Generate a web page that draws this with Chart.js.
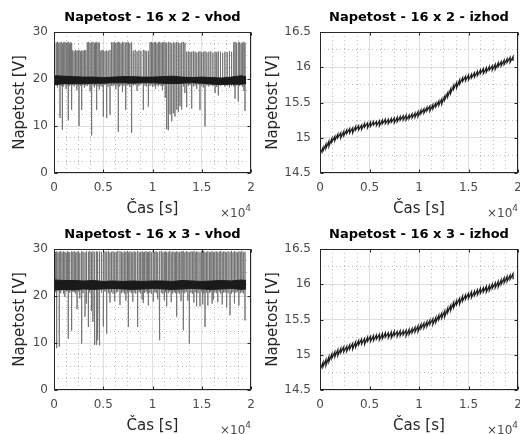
<!DOCTYPE html>
<html>
<head>
<meta charset="utf-8">
<script src="https://cdn.jsdelivr.net/npm/chart.js@4"></script>
<style>
  body { margin: 0; background: #fff; }
  #wrap { position: relative; width: 520px; height: 434px; background: #fff; }
  #wrap canvas { position: absolute; }
</style>
</head>
<body>
<div id="wrap">
  <canvas id="c1" width="260" height="217" style="left:0;top:0"></canvas>
  <canvas id="c2" width="260" height="217" style="left:260px;top:0"></canvas>
  <canvas id="c3" width="260" height="217" style="left:0;top:217px"></canvas>
  <canvas id="c4" width="260" height="217" style="left:260px;top:217px"></canvas>
</div>
<script>
// ---- 16 x 2 - vhod (input voltage) ----
// dark band envelope around the base level
const bandTime = [0, 1000, 2000, 3000, 4000, 5000, 6000, 7000, 8000, 9000, 10000,
  11000, 12000, 13000, 14000, 15000, 16000, 17000, 18000, 19000, 19500];
const vhod2Upper = [20.7, 20.6, 20.5, 20.4, 20.4, 20.3, 20.4, 20.5, 20.5, 20.4, 20.4,
  20.5, 20.6, 20.4, 20.3, 20.4, 20.3, 20.2, 20.4, 20.7, 20.5];
const vhod2Lower = [18.8, 19.0, 19.0, 19.0, 19.1, 19.1, 19.2, 19.2, 19.1, 19.2, 19.2,
  19.1, 19.0, 19.1, 19.2, 19.1, 18.9, 18.8, 18.9, 18.9, 19.0];
const vhod2Base = 19.6;
// spikes: time, top and bottom of each excursion
const vhod2Time = [
  0, 100, 230, 360, 480, 610, 730, 850, 980, 1100, 1230, 1340, 1450, 1570, 1690, 1790,
  1900, 2040, 2180, 2320, 2450, 2540, 2680, 2810, 2950, 3090, 3230,
  3380, 3520, 3660, 3820, 3960, 4100, 4210, 4330, 4470, 4600,
  4750, 4880, 5010, 5180, 5350, 5500, 5690, 5850,
  6000, 6140, 6280, 6410, 6530, 6670, 6810, 6950, 7100, 7280, 7420, 7560, 7700, 7880,
  8050, 8240, 8430, 8620, 8820, 9070, 9240, 9400, 9580,
  9750, 9890, 10030, 10170, 10310, 10450, 10590, 10730, 10870, 11010, 11150, 11290, 11440, 11610, 11780, 11950,
  12120, 12280, 12450, 12620, 12790, 12960, 13130, 13290,
  13470, 13640, 13810, 13980, 14150, 14320, 14490, 14660, 14820, 14990, 15160, 15330,
  15520, 15720, 15920, 16130, 16350, 16520, 16680, 16900, 17120, 17350, 17580, 17810, 18030,
  18250, 18380, 18520, 18710, 18850, 19000, 19150, 19280, 19390];
const vhod2High = [
  25.9, 27.6, 27.8, 27.9, 27.7, 27.8, 27.9, 27.6, 27.8, 27.9, 27.7, 27.8, 27.9, 27.6, 27.8, 27.7,
  26.1, 25.9, 26.2, 26.0, 26.1, 26.2, 25.9, 26.1, 26.0, 26.2, 26.1,
  27.8, 27.9, 27.7, 27.8, 27.9, 27.6, 27.8, 27.9, 27.7, 27.8,
  26.0, 26.2, 26.1, 25.9, 26.1, 26.0, 26.2, 27.8,
  27.8, 27.9, 27.7, 27.8, 27.9, 27.8, 27.6, 27.9, 27.8, 27.7, 27.9, 27.8, 27.6, 27.8,
  26.0, 26.2, 25.9, 26.1, 26.0, 26.2, 26.1, 25.9, 26.0,
  27.8, 27.9, 27.7, 27.8, 27.9, 27.6, 27.8, 27.9, 27.7, 27.8, 27.9, 27.8, 27.7, 27.9, 27.8, 27.6,
  27.8, 27.7, 27.9, 27.8, 27.6, 27.8, 27.9, 27.7,
  25.8, 25.9, 25.7, 25.8, 25.9, 25.8, 25.6, 25.8, 25.9, 25.7, 25.8, 25.9,
  25.7, 25.8, 25.9, 25.6, 25.8, 25.7, 25.9, 25.8, 25.6, 25.8, 25.7, 25.9, 25.8,
  27.8, 27.9, 27.7, 27.8, 27.9, 27.6, 27.8, 27.9, 27.7];
const vhod2Low = [
  13.0, 12.7, 18.6, 18.2, 18.8, 11.7, 18.5, 9.2, 18.4, 18.9, 17.9, 18.6, 11.2, 18.5, 18.8, 13.4,
  18.7, 18.4, 18.8, 17.6, 18.6, 10.0, 18.5, 13.4, 18.7, 18.2, 18.6,
  18.5, 18.8, 17.4, 8.0, 18.6, 18.2, 18.7, 13.4, 18.5, 17.8,
  18.6, 18.3, 12.0, 18.7, 11.7, 18.4, 12.4, 18.6,
  18.5, 18.8, 17.8, 18.6, 8.8, 18.4, 18.7, 17.2, 18.5, 13.4, 18.6, 18.8, 18.3, 8.5,
  18.6, 18.7, 17.5, 18.5, 18.8, 13.4, 18.6, 18.4, 14.1,
  18.5, 18.8, 18.3, 18.6, 17.9, 18.7, 18.4, 18.8, 18.5, 17.6, 18.6, 16.0, 9.3, 9.1, 12.5, 11.0,
  12.7, 12.0, 13.5, 13.0, 14.2, 13.5, 18.4, 17.0,
  14.0, 18.5, 18.7, 13.7, 18.4, 18.6, 17.9, 18.8, 13.4, 18.5, 18.2, 9.9,
  18.6, 18.4, 18.7, 18.5, 17.0, 18.3, 16.5, 18.6, 18.8, 18.4, 18.6, 18.2, 18.5,
  18.4, 15.8, 18.6, 15.2, 18.5, 18.7, 18.3, 17.5, 13.2];

// ---- 16 x 3 - vhod (input voltage) ----
const vhod3Upper = [23.4, 23.3, 23.3, 23.2, 23.3, 23.1, 23.2, 23.1, 23.2, 23.1, 23.2,
  23.2, 23.1, 23.3, 23.2, 23.1, 23.2, 23.3, 23.2, 23.4, 23.3];
const vhod3Lower = [21.3, 21.4, 21.3, 21.5, 21.4, 21.5, 21.6, 21.5, 21.4, 21.5, 21.6,
  21.5, 21.4, 21.5, 21.6, 21.5, 21.4, 21.5, 21.6, 21.4, 21.5];
const vhod3Base = 22.3;
const vhod3Time = [
  0, 30, 150, 270, 400, 540, 680, 820, 960, 1100, 1240, 1380, 1450, 1600, 1790, 1920,
  2060, 2200, 2340, 2480, 2620, 2810, 2950, 3150, 3300, 3490, 3640, 3800, 3950, 4090, 4160, 4330, 4430, 4570, 4670,
  4820, 5010, 5180, 5350, 5520, 5680, 5840, 6000, 6160, 6320, 6480,
  6700, 6850, 7000, 7150, 7300, 7450, 7550, 7700, 7850, 8000, 8150, 8300, 8490, 8650, 8800, 8950, 9070, 9200, 9350, 9480,
  9580, 9730, 9880, 10080, 10230, 10380, 10530, 10680, 10760, 10900, 11050, 11200, 11330, 11440, 11600, 11750, 11900, 12050, 12200, 12340, 12450,
  12600, 12750, 12900, 13000, 13130, 13280, 13430, 13590, 13740, 13900, 14050, 14200, 14340, 14480, 14620, 14820, 14960, 15100, 15200, 15330, 15480, 15620, 15780, 15920, 16050, 16180,
  16330, 16480, 16630, 16780, 16930, 17080, 17230, 17380, 17530, 17680, 17870, 18020, 18170, 18320, 18470, 18620, 18770, 18920, 19070, 19220, 19390];
const vhod3High = [
  28.7, 28.2, 29.4, 29.5, 29.3, 29.4, 29.6, 29.3, 29.5, 29.4, 29.2, 29.5, 29.4, 29.3, 29.5, 29.4,
  29.5, 29.3, 29.4, 29.6, 29.2, 29.5, 29.4, 29.3, 29.5, 29.4, 29.6, 29.3, 29.5, 29.4, 29.2, 29.5, 29.4, 29.3, 29.5,
  29.4, 29.3, 29.5, 29.4, 29.6, 29.3, 29.4, 29.5, 29.3, 29.4, 29.6,
  29.5, 29.4, 29.3, 29.5, 29.4, 29.6, 29.3, 29.5, 29.4, 29.3, 29.5, 29.4, 29.6, 29.3, 29.4, 29.5, 29.3, 29.4, 29.5, 29.3,
  29.4, 29.5, 29.3, 29.6, 29.4, 29.5, 29.3, 29.4, 29.5, 29.6, 29.3, 29.4, 29.5, 29.3, 29.4, 29.6, 29.3, 29.5, 29.4, 29.3, 29.5,
  29.4, 29.3, 29.5, 29.4, 29.6, 29.3, 29.5, 29.4, 29.3, 29.5, 29.4, 29.6, 29.3, 29.5, 29.4, 29.3, 29.5, 29.4, 29.6, 29.3, 29.4, 29.5, 29.3, 29.4, 29.5, 29.3,
  29.4, 29.5, 29.3, 29.4, 29.6, 29.3, 29.5, 29.4, 29.3, 29.5, 29.4, 29.6, 29.3, 29.5, 29.4, 29.3, 29.5, 29.4, 29.6, 29.3, 29.4];
const vhod3Low = [
  7.4, 7.2, 20.8, 8.9, 21.0, 9.2, 20.6, 21.2, 20.5, 19.8, 20.9, 21.1, 10.9, 20.7, 12.6, 20.9,
  20.8, 20.5, 17.2, 20.9, 19.5, 9.9, 20.6, 15.6, 18.4, 13.4, 20.7, 16.8, 14.5, 15.6, 9.6, 9.6, 10.6, 9.6, 9.5,
  20.7, 13.5, 20.9, 12.0, 20.6, 18.6, 20.8, 20.5, 18.9, 20.7, 20.9,
  18.1, 20.6, 20.8, 20.5, 19.0, 20.7, 13.4, 20.9, 20.6, 18.8, 20.7, 20.5, 13.4, 20.8, 20.6, 19.2, 18.5, 20.7, 20.9, 20.5,
  18.0, 20.7, 20.5, 18.8, 20.8, 20.6, 19.3, 20.9, 10.6, 20.7, 20.5, 19.1, 20.8, 17.8, 20.6, 20.9, 18.7, 20.5, 20.8, 20.6, 15.6,
  20.7, 20.5, 18.9, 20.8, 12.7, 20.6, 20.9, 19.0, 9.9, 20.7, 20.5, 18.6, 20.8, 17.8, 20.6, 17.8, 20.9, 18.2, 20.5, 13.4, 20.7, 18.0, 20.6, 20.8, 18.4, 19.2,
  20.8, 20.6, 18.7, 20.9, 20.5, 18.2, 20.7, 20.8, 17.6, 20.6, 15.9, 20.5, 20.8, 18.4, 20.7, 20.9, 18.0, 20.6, 20.8, 20.5, 14.8];

// ---- izhod (output voltage), sampled every 300 s ----
const outTime = [0, 300, 600, 900, 1200, 1500, 1800, 2100, 2400, 2700,
  3000, 3300, 3600, 3900, 4200, 4500, 4800, 5100, 5400, 5700,
  6000, 6300, 6600, 6900, 7200, 7500, 7800, 8100, 8400, 8700,
  9000, 9300, 9600, 9900, 10200, 10500, 10800, 11100, 11400, 11700,
  12000, 12300, 12600, 12900, 13200, 13500, 13800, 14100, 14400, 14700,
  15000, 15300, 15600, 15900, 16200, 16500, 16800, 17100, 17400, 17700,
  18000, 18300, 18600, 18900, 19200, 19500];
const izhod2Top = [14.82, 14.86, 14.91, 14.95, 14.99, 15.02, 15.05, 15.07, 15.09, 15.11,
  15.13, 15.14, 15.16, 15.17, 15.18, 15.20, 15.21, 15.22, 15.23, 15.23,
  15.24, 15.25, 15.26, 15.26, 15.27, 15.28, 15.29, 15.30, 15.31, 15.32,
  15.32, 15.34, 15.35, 15.37, 15.39, 15.41, 15.43, 15.45, 15.47, 15.49,
  15.52, 15.55, 15.59, 15.64, 15.69, 15.74, 15.78, 15.82, 15.85, 15.87,
  15.89, 15.90, 15.92, 15.94, 15.96, 15.98, 15.99, 16.01, 16.02, 16.04,
  16.06, 16.08, 16.10, 16.12, 16.14, 16.15];
const izhod2Ripple = [0.06, 0.05, 0.06, 0.07, 0.05, 0.06, 0.05, 0.07, 0.06, 0.05,
  0.06, 0.07, 0.05, 0.06, 0.06, 0.05, 0.07, 0.06, 0.05, 0.06,
  0.07, 0.05, 0.06, 0.06, 0.05, 0.07, 0.06, 0.05, 0.06, 0.07,
  0.05, 0.06, 0.06, 0.07, 0.05, 0.06, 0.05, 0.07, 0.06, 0.05,
  0.06, 0.07, 0.05, 0.06, 0.06, 0.05, 0.07, 0.06, 0.05, 0.06,
  0.07, 0.05, 0.06, 0.06, 0.05, 0.07, 0.06, 0.05, 0.06, 0.07,
  0.05, 0.06, 0.06, 0.05, 0.07, 0.06];
const izhod3Top = [14.85, 14.89, 14.93, 14.97, 15.01, 15.04, 15.07, 15.09, 15.11, 15.12,
  15.14, 15.16, 15.18, 15.20, 15.22, 15.23, 15.25, 15.26, 15.27, 15.28,
  15.29, 15.30, 15.31, 15.31, 15.32, 15.33, 15.33, 15.34, 15.34, 15.35,
  15.36, 15.37, 15.39, 15.41, 15.43, 15.45, 15.47, 15.49, 15.51, 15.53,
  15.56, 15.59, 15.62, 15.66, 15.70, 15.74, 15.77, 15.80, 15.83, 15.85,
  15.87, 15.89, 15.90, 15.92, 15.94, 15.95, 15.97, 15.98, 16.00, 16.02,
  16.04, 16.06, 16.09, 16.11, 16.13, 16.15];
const izhod3Ripple = [0.07, 0.06, 0.08, 0.07, 0.06, 0.07, 0.08, 0.06, 0.07, 0.07,
  0.06, 0.08, 0.07, 0.06, 0.07, 0.08, 0.06, 0.07, 0.07, 0.06,
  0.08, 0.07, 0.06, 0.07, 0.08, 0.06, 0.07, 0.07, 0.06, 0.08,
  0.07, 0.06, 0.07, 0.08, 0.06, 0.07, 0.07, 0.06, 0.08, 0.07,
  0.06, 0.07, 0.08, 0.06, 0.07, 0.07, 0.06, 0.08, 0.07, 0.06,
  0.07, 0.08, 0.06, 0.07, 0.07, 0.06, 0.08, 0.07, 0.06, 0.07,
  0.08, 0.06, 0.07, 0.07, 0.06, 0.08];

Chart.defaults.font.family = 'DejaVu Sans';
Chart.defaults.color = '#4a4a4a';
Chart.defaults.animation = false;

// base -> top -> bottom -> base for every spike
function spikePoints(times, highs, lows, base) {
  const pts = [];
  times.forEach((t, i) => {
    pts.push({ x: t, y: base }, { x: t, y: highs[i] }, { x: t, y: lows[i] }, { x: t, y: base });
  });
  return pts;
}

// sawtooth: top then drop at the same time
function ripplePoints(times, tops, ripple) {
  const pts = [];
  times.forEach((t, i) => {
    pts.push({ x: t, y: tops[i] }, { x: t, y: tops[i] - ripple[i] });
  });
  return pts;
}

function pairs(xs, ys) {
  return xs.map((x, i) => ({ x, y: ys[i] }));
}

function inputDatasets(upper, lower, times, highs, lows, base) {
  return [
    { data: pairs(bandTime, upper), borderColor: '#1a1a1a', borderWidth: 1, pointRadius: 0, fill: false },
    { data: pairs(bandTime, lower), borderColor: '#1a1a1a', borderWidth: 1, pointRadius: 0,
      fill: '-1', backgroundColor: '#1a1a1a' },
    { data: spikePoints(times, highs, lows, base), borderColor: '#707070', borderWidth: 0.9, pointRadius: 0, fill: false },
  ];
}

function outputDatasets(tops, ripple) {
  return [
    { data: ripplePoints(outTime, tops, ripple), borderColor: '#1e1e1e', borderWidth: 1.3, pointRadius: 0, fill: false },
  ];
}

function isMajor(v, step) {
  return Math.abs(v / step - Math.round(v / step)) < 1e-6;
}

// axes box, inward major ticks and the x10^4 multiplier
const boxPlugin = {
  id: 'box',
  afterDraw(chart) {
    const { ctx, chartArea: a, scales } = chart;
    const L = Math.round(a.left) + 0.5, R = Math.round(a.right) - 0.5;
    const T = Math.round(a.top) + 0.5, B = Math.round(a.bottom) - 0.5;
    ctx.save();
    ctx.strokeStyle = '#262626';
    ctx.lineWidth = 1;
    ctx.beginPath();
    scales.x.ticks.forEach((t) => {
      if (!isMajor(t.value, 5000)) return;
      const px = Math.round(scales.x.getPixelForValue(t.value)) + 0.5;
      ctx.moveTo(px, B); ctx.lineTo(px, B - 3);
      ctx.moveTo(px, T); ctx.lineTo(px, T + 3);
    });
    const ym = chart.options.scales.y.majorStep;
    scales.y.ticks.forEach((t) => {
      if (!isMajor(t.value, ym)) return;
      const py = Math.round(scales.y.getPixelForValue(t.value)) + 0.5;
      ctx.moveTo(L, py); ctx.lineTo(L + 3, py);
      ctx.moveTo(R, py); ctx.lineTo(R - 3, py);
    });
    ctx.stroke();
    ctx.strokeRect(L, T, R - L, B - T);

    ctx.fillStyle = '#4a4a4a';
    ctx.textAlign = 'right';
    ctx.textBaseline = 'alphabetic';
    ctx.font = '9px DejaVu Sans';
    ctx.fillText('4', a.right, 211);
    const w = ctx.measureText('4').width;
    ctx.font = '12px DejaVu Sans';
    ctx.fillText('\u00d710', a.right - w, 216.5);
    ctx.restore();
  },
};

function makeChart(id, opts) {
  const gridColor = (step) => (c) => (c.tick && isMajor(c.tick.value, step) ? '#dedede' : '#bdbdbd');
  const gridDash = (step) => (c) => (c.tick && isMajor(c.tick.value, step) ? [] : [1, 3]);
  return new Chart(document.getElementById(id), {
    type: 'line',
    data: { datasets: opts.datasets },
    options: {
      responsive: false,
      animation: false,
      layout: { padding: { left: 0, right: opts.padRight, top: 0, bottom: 0 } },
      plugins: {
        legend: { display: false },
        tooltip: { enabled: false },
        title: {
          display: true,
          text: opts.title,
          fullSize: false,
          color: '#000',
          font: { size: 13, weight: 'bold' },
          padding: { top: 10, bottom: 6.4 },
        },
      },
      scales: {
        x: {
          type: 'linear',
          min: 0,
          max: 20000,
          afterFit: (s) => { s.height = 44; s.paddingLeft = 0; s.paddingRight = 0; },
          ticks: {
            stepSize: 1250,
            autoSkip: false,
            maxRotation: 0,
            padding: 8,
            font: { size: 12 },
            callback: (v) => (isMajor(v, 5000) ? String(v / 10000) : ''),
          },
          grid: { drawTicks: false, color: gridColor(5000), lineWidth: 1 },
          border: { display: false, dash: gridDash(5000) },
          title: {
            display: true,
            text: '\u010cas [s]',
            color: '#262626',
            font: { size: 15, lineHeight: 1 },
            padding: { top: 0, bottom: 0 },
          },
        },
        y: {
          type: 'linear',
          min: opts.yMin,
          max: opts.yMax,
          majorStep: opts.yMajor,
          afterFit: (s) => { s.width = opts.yWidth; s.paddingTop = 0; s.paddingBottom = 0; },
          ticks: {
            stepSize: opts.yStep,
            autoSkip: false,
            padding: opts.yTickPad,
            font: { size: 12 },
            callback: (v) => (isMajor(v, opts.yMajor) ? String(+v.toFixed(2)) : ''),
          },
          grid: { drawTicks: false, color: gridColor(opts.yMajor), lineWidth: 1 },
          border: { display: false, dash: gridDash(opts.yMajor) },
          title: {
            display: true,
            text: 'Napetost [V]',
            color: '#262626',
            font: { size: 15, lineHeight: 1 },
            padding: { top: opts.yTitlePad, bottom: 0 },
          },
        },
      },
    },
    plugins: [boxPlugin],
  });
}

const leftAxis = { yMin: 0, yMax: 30, yStep: 2.5, yMajor: 10, yWidth: 54, yTickPad: 6, yTitlePad: 12.5, padRight: 9 };
const rightAxis = { yMin: 14.5, yMax: 16.5, yStep: 0.25, yMajor: 0.5, yWidth: 60, yTickPad: 9, yTitlePad: 5.5, padRight: 2 };

makeChart('c1', Object.assign({}, leftAxis, {
  title: 'Napetost - 16 x 2 - vhod',
  datasets: inputDatasets(vhod2Upper, vhod2Lower, vhod2Time, vhod2High, vhod2Low, vhod2Base),
}));
makeChart('c2', Object.assign({}, rightAxis, {
  title: 'Napetost - 16 x 2 - izhod',
  datasets: outputDatasets(izhod2Top, izhod2Ripple),
}));
makeChart('c3', Object.assign({}, leftAxis, {
  title: 'Napetost - 16 x 3 - vhod',
  datasets: inputDatasets(vhod3Upper, vhod3Lower, vhod3Time, vhod3High, vhod3Low, vhod3Base),
}));
makeChart('c4', Object.assign({}, rightAxis, {
  title: 'Napetost - 16 x 3 - izhod',
  datasets: outputDatasets(izhod3Top, izhod3Ripple),
}));
</script>
</body>
</html>
